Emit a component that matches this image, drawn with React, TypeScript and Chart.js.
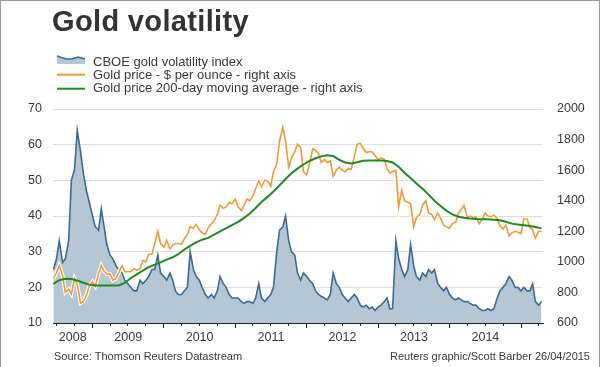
import React, { useEffect, useRef } from "react";
import { Chart, registerables } from "chart.js";

Chart.register(...registerables);

// ---------- Data (semi-monthly observations: 1st and 15th of each month; 2008 begins 15 June) ----------
const vol2008 = [25, 28, 33, 27, 28, 33, 50, 53, 64, 58, 52, 47, 44];
const vol2009 = [40, 37, 36, 42, 37, 32, 29, 28, 26, 25, 24, 22, 21, 20, 19, 19, 22, 21, 22, 23, 25, 25, 29, 24];
const vol2010 = [23, 22, 24, 22, 19, 18, 18, 19, 20, 30, 25, 23, 22, 20, 18, 17, 18, 17, 19, 23, 21, 20, 18, 17];
const vol2011 = [17, 17, 16, 15.5, 16, 16, 15.5, 17, 21, 17, 16, 17, 18, 20, 30, 36, 37, 40, 33, 30, 29, 24, 22, 24];
const vol2012 = [23, 22, 21, 19, 18, 17.5, 17, 16.5, 18, 24, 21, 20, 18, 17, 16, 17, 18, 17, 15, 14.5, 15, 14, 14.5, 13.5];
const vol2013 = [14.5, 15, 16, 17, 14, 14, 33, 28, 25, 23, 25, 32, 26, 23, 22, 24, 23, 25, 24, 25, 21, 20, 19, 20];
const vol2014 = [18, 17, 16.5, 17, 16.5, 16, 16, 15.5, 15, 15, 14, 13.5, 13.5, 14, 13.5, 14, 17, 19, 20, 21, 23, 22, 20, 20];
const vol2015 = [19, 20, 19, 19, 21, 16, 15, 16];

const price2008 = [890, 930, 975, 910, 800, 820, 790, 890, 850, 730, 740, 780, 840];
const price2009 = [870, 840, 920, 975, 940, 920, 920, 880, 890, 930, 975, 935, 935, 935, 955, 945, 955, 1010, 1000, 1050, 1050, 1120, 1200, 1120];
const price2010 = [1095, 1140, 1085, 1110, 1120, 1120, 1115, 1150, 1180, 1230, 1220, 1245, 1210, 1190, 1180, 1220, 1250, 1270, 1310, 1370, 1350, 1360, 1390, 1380];
const price2011 = [1410, 1360, 1335, 1370, 1410, 1400, 1430, 1480, 1530, 1490, 1535, 1530, 1495, 1590, 1640, 1790, 1880, 1790, 1620, 1680, 1720, 1770, 1750, 1590];
const price2012 = [1570, 1640, 1740, 1730, 1710, 1650, 1670, 1650, 1660, 1560, 1600, 1620, 1600, 1590, 1610, 1605, 1690, 1770, 1775, 1745, 1715, 1720, 1720, 1695];
const price2013 = [1670, 1680, 1670, 1610, 1580, 1590, 1600, 1360, 1470, 1400, 1390, 1380, 1230, 1290, 1310, 1370, 1400, 1320, 1310, 1275, 1320, 1285, 1240, 1230];
const price2014 = [1220, 1250, 1260, 1320, 1340, 1370, 1290, 1300, 1290, 1295, 1250, 1275, 1320, 1300, 1295, 1305, 1285, 1235, 1215, 1240, 1170, 1190, 1200, 1195];
const price2015 = [1185, 1280, 1280, 1225, 1210, 1155, 1200, 1200];

// 200-day moving average, monthly (15th of each month; 2008 begins June)
const ma2008 = [856, 880, 889, 888, 878, 863, 851];
const ma2009 = [846, 845, 845, 845, 846, 862, 893, 918, 942, 965, 982, 997];
const ma2010 = [1015, 1030, 1050, 1080, 1105, 1127, 1145, 1157, 1178, 1200, 1220, 1240];
const ma2011 = [1262, 1288, 1315, 1352, 1392, 1425, 1460, 1500, 1542, 1580, 1610, 1637];
const ma2012 = [1660, 1678, 1690, 1698, 1692, 1668, 1650, 1644, 1652, 1662, 1663, 1663];
const ma2013 = [1663, 1660, 1650, 1622, 1583, 1548, 1512, 1478, 1440, 1400, 1365, 1335];
const ma2014 = [1310, 1295, 1288, 1283, 1280, 1278, 1278, 1276, 1272, 1262, 1250, 1245];
const ma2015 = [1240, 1235, 1228, 1219];

const leftTicks = [10, 20, 30, 40, 50, 60, 70];
const rightTicks = [600, 800, 1000, 1200, 1400, 1600, 1800, 2000];
const yearLabels = ["2008", "2009", "2010", "2011", "2012", "2013", "2014"];
const axisStart = [2008, 5, 13];
const axisEnd = [2015, 3, 23];

// ---------- helpers ----------
const ts = (y: number, m: number, d: number) => Date.UTC(y, m, d);

function halfMonthly(year: number, firstSlot: number, values: number[]) {
  return values.map((v, i) => {
    const s = firstSlot + i;
    return { x: ts(year, Math.floor(s / 2), s % 2 ? 15 : 1), y: v };
  });
}
function monthly(year: number, firstMonth: number, values: number[]) {
  return values.map((v, i) => ({ x: ts(year, firstMonth + i, 15), y: v }));
}

const volData = [
  ...halfMonthly(2008, 11, vol2008), ...halfMonthly(2009, 0, vol2009), ...halfMonthly(2010, 0, vol2010),
  ...halfMonthly(2011, 0, vol2011), ...halfMonthly(2012, 0, vol2012), ...halfMonthly(2013, 0, vol2013),
  ...halfMonthly(2014, 0, vol2014), ...halfMonthly(2015, 0, vol2015),
];
const priceData = [
  ...halfMonthly(2008, 11, price2008), ...halfMonthly(2009, 0, price2009), ...halfMonthly(2010, 0, price2010),
  ...halfMonthly(2011, 0, price2011), ...halfMonthly(2012, 0, price2012), ...halfMonthly(2013, 0, price2013),
  ...halfMonthly(2014, 0, price2014), ...halfMonthly(2015, 0, price2015),
];
const maData = [
  ...monthly(2008, 5, ma2008), ...monthly(2009, 0, ma2009), ...monthly(2010, 0, ma2010),
  ...monthly(2011, 0, ma2011), ...monthly(2012, 0, ma2012), ...monthly(2013, 0, ma2013),
  ...monthly(2014, 0, ma2014), ...monthly(2015, 0, ma2015),
];

const xMin = ts(axisStart[0], axisStart[1], axisStart[2]);
const xMax = ts(axisEnd[0], axisEnd[1], axisEnd[2]);

const quarterTicks: number[] = [];
for (let y = 2008; y <= 2015; y++) {
  for (let q = 0; q < 4; q++) {
    const t = ts(y, q * 3, 1);
    if (t >= xMin && t <= xMax) quarterTicks.push(t);
  }
}
const yearTicks: number[] = [];
for (let y = 2009; y <= 2015; y++) yearTicks.push(ts(y, 0, 1));
const labelTicks = yearLabels.map((lab) => {
  const y = Number(lab);
  const a = Math.max(ts(y, 0, 1), xMin);
  const b = Math.min(ts(y + 1, 0, 1), xMax);
  return (a + b) / 2;
});

const FONT = "'Liberation Sans', Arial, Helvetica, sans-serif";
const TEXT = "#3a3a3a";
const AXIS = "#222222";

export default function App() {
  const ref = useRef<HTMLCanvasElement | null>(null);

  useEffect(() => {
    if (!ref.current) return;
    const tickFont = { family: FONT, size: 12.5 };
    const chart = new Chart(ref.current, {
      type: "line",
      data: {
        datasets: [
          {
            label: "Gold price 200-day moving average - right axis",
            data: maData,
            yAxisID: "y1",
            borderColor: "#1e8c1e",
            borderWidth: 2,
            pointRadius: 0,
            fill: false,
            order: 1,
          },
          {
            label: "Gold price - $ per ounce - right axis",
            data: priceData,
            yAxisID: "y1",
            borderColor: "#f3993a",
            borderWidth: 1.6,
            pointRadius: 0,
            fill: false,
            order: 2,
          },
          {
            label: "halo",
            data: priceData,
            yAxisID: "y1",
            borderColor: "#ffffff",
            borderWidth: 3.8,
            pointRadius: 0,
            fill: false,
            order: 3,
          },
          {
            label: "CBOE gold volatility index",
            data: volData,
            yAxisID: "y",
            borderColor: "#3c6b93",
            borderWidth: 1.6,
            backgroundColor: "#b5c7d5",
            pointRadius: 0,
            fill: "start",
            order: 4,
          },
        ],
      },
      options: {
        responsive: false,
        animation: false,
        devicePixelRatio: 1,
        layout: { padding: { top: 109, left: 0, right: 0, bottom: 0 } },
        plugins: { legend: { display: false }, tooltip: { enabled: false }, title: { display: false } },
        scales: {
          x: {
            type: "linear",
            position: "bottom",
            min: xMin,
            max: xMax,
            weight: 0,
            z: 1,
            afterBuildTicks: (s: any) => { s.ticks = quarterTicks.map((v) => ({ value: v })); },
            afterFit: (s: any) => { s.height = 0; },
            ticks: { display: false, autoSkip: false },
            grid: { drawOnChartArea: false, drawTicks: true, tickLength: 3, tickColor: AXIS, tickWidth: 1 },
            border: { display: true, color: AXIS, width: 1 },
          },
          xYear: {
            type: "linear",
            position: "bottom",
            min: xMin,
            max: xMax,
            weight: 1,
            z: 1,
            afterBuildTicks: (s: any) => { s.ticks = yearTicks.map((v) => ({ value: v })); },
            afterFit: (s: any) => { s.height = 0; },
            ticks: { display: false, autoSkip: false },
            grid: { drawOnChartArea: false, drawTicks: true, tickLength: 5, tickColor: AXIS, tickWidth: 1 },
            border: { display: false },
          },
          xLab: {
            type: "linear",
            position: "bottom",
            min: xMin,
            max: xMax,
            weight: 2,
            afterBuildTicks: (s: any) => { s.ticks = labelTicks.map((v) => ({ value: v })); },
            afterFit: (s: any) => { s.height = 44; },
            ticks: {
              autoSkip: false,
              maxRotation: 0,
              padding: 7,
              color: TEXT,
              font: tickFont,
              callback: (_v: any, i: number) => yearLabels[i],
            },
            grid: { display: false, drawTicks: false },
            border: { display: false },
          },
          y: {
            type: "linear",
            position: "left",
            min: 10,
            max: 70,
            afterBuildTicks: (s: any) => { s.ticks = leftTicks.map((v) => ({ value: v })); },
            afterFit: (s: any) => { s.width = 53; },
            ticks: { padding: 11, color: TEXT, font: tickFont, callback: (v: any) => String(v) },
            grid: { color: "#dddddd", lineWidth: 1, drawTicks: false },
            border: { display: false },
          },
          y1: {
            type: "linear",
            position: "right",
            min: 600,
            max: 2000,
            afterBuildTicks: (s: any) => { s.ticks = rightTicks.map((v) => ({ value: v })); },
            afterFit: (s: any) => { s.width = 57; },
            ticks: { padding: 14, color: TEXT, font: tickFont, callback: (v: any) => String(v) },
            grid: { drawOnChartArea: false, drawTicks: false },
            border: { display: false },
          },
        },
      } as any,
    });
    return () => chart.destroy();
  }, []);

  const abs = (top: number, left: number): React.CSSProperties => ({
    position: "absolute",
    top,
    left,
    whiteSpace: "nowrap",
  });

  const legendText: React.CSSProperties = {
    fontFamily: FONT,
    fontSize: 13,
    lineHeight: "13.5px",
    color: TEXT,
  };

  return (
    <div style={{ position: "absolute", top: 0, left: 0, width: 600, height: 367, background: "#ffffff", overflow: "hidden" }}>
      <canvas ref={ref} width={600} height={367} style={{ position: "absolute", top: 0, left: 0, width: 600, height: 367 }} />
      <div
        style={{
          ...abs(7.2, 52),
          fontFamily: FONT,
          fontWeight: "bold",
          fontSize: 29,
          lineHeight: "29px",
          letterSpacing: "0.35px",
          color: "#333333",
        }}
      >
        Gold volatility
      </div>
      <svg style={{ position: "absolute", top: 52, left: 56 }} width={32} height={44}>
        <path d="M1 4 L10 7 L16 7 L22 5 L29 7 L29 12 L1 12 Z" fill="#b5c7d5" />
        <path d="M1 4 L10 7 L16 7 L22 5 L29 7" fill="none" stroke="#3c6b93" strokeWidth={1.6} />
        <line x1={1} y1={22.7} x2={29} y2={22.7} stroke="#f3993a" strokeWidth={2} />
        <line x1={1} y1={36.7} x2={29} y2={36.7} stroke="#1e8c1e" strokeWidth={2} />
      </svg>
      <div style={{ ...abs(54.7, 93), ...legendText }}>CBOE gold volatility index</div>
      <div style={{ ...abs(68, 93), ...legendText }}>Gold price - $ per ounce - right axis</div>
      <div style={{ ...abs(81.3, 93), ...legendText }}>Gold price 200-day moving average - right axis</div>
      <div style={{ ...abs(349.5, 54), fontFamily: FONT, fontSize: 11, lineHeight: "13px", color: TEXT }}>
        Source: Thomson Reuters Datastream
      </div>
      <div style={{ position: "absolute", top: 349.5, right: 10, whiteSpace: "nowrap", fontFamily: FONT, fontSize: 11, lineHeight: "13px", color: TEXT }}>
        Reuters graphic/Scott Barber 26/04/2015
      </div>
      <div style={{ position: "absolute", top: 0, left: 0, width: 598, height: 366, border: "1px solid #9a9a9a", pointerEvents: "none" }} />
    </div>
  );
}
